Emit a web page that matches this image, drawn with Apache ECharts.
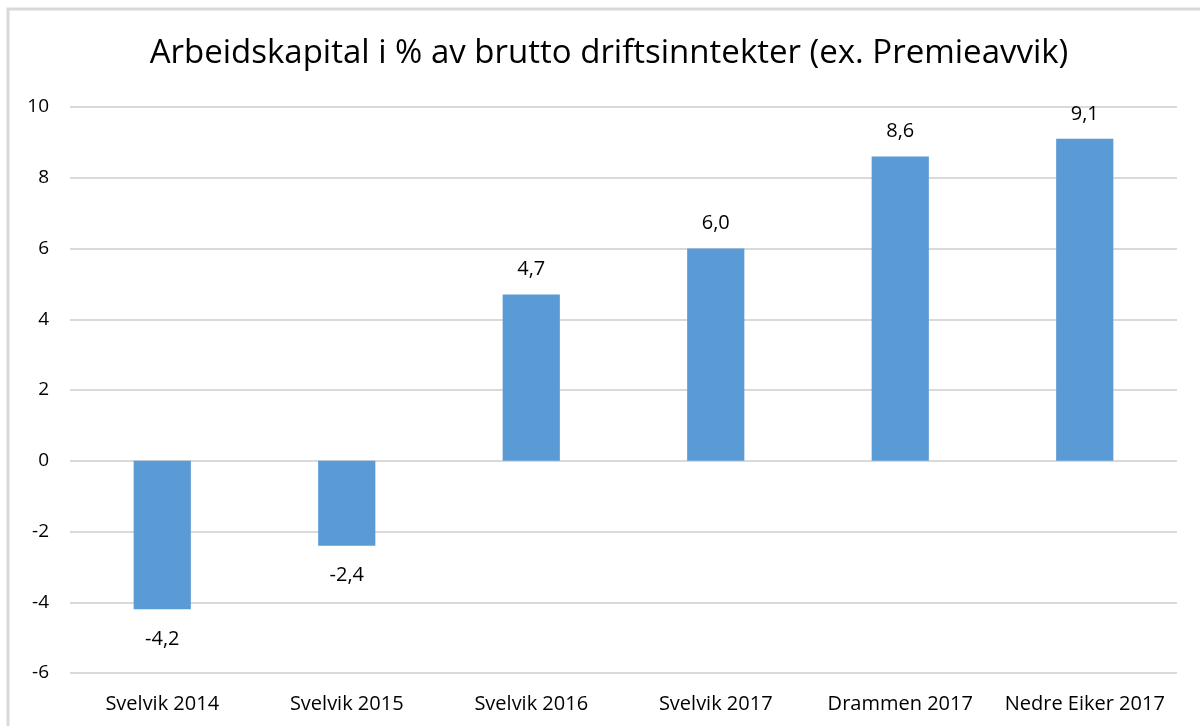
<!DOCTYPE html>
<html>
<head>
<meta charset="utf-8">
<script src="https://cdn.jsdelivr.net/npm/echarts@6/dist/echarts.min.js"></script>
<style>
html,body{margin:0;padding:0;background:#fff;}
#chart{width:1200px;height:726px;}
</style>
</head>
<body>
<div id="chart"></div>
<script>
var categories = ["Svelvik 2014","Svelvik 2015","Svelvik 2016","Svelvik 2017","Drammen 2017","Nedre Eiker 2017"];
var values = [-4.2, -2.4, 4.7, 6.0, 8.6, 9.1];
var yTicks = {min: -6, max: 10, interval: 2};

var myChart = echarts.init(document.getElementById("chart"));
var font = "'Open Sans', 'DejaVu Sans', sans-serif";
var option = {
    backgroundColor: "#fff",
    animation: false,
    title: {
        text: "Arbeidskapital i % av brutto driftsinntekter (ex. Premieavvik)",
        left: 604,
        textAlign: "center",
        top: 32,
        textStyle: {fontFamily: font, fontSize: 33, fontWeight: "normal", color: "#000"}
    },
    graphic: [{
        type: "rect",
        shape: {x: 8, y: 9, width: 1200, height: 730},
        style: {fill: null, stroke: "#d9d9d9", lineWidth: 3},
        silent: true
    }],
    grid: {left: 70, right: 23, top: 107, bottom: 53},
    xAxis: {
        type: "category",
        data: categories,
        axisLine: {show: false, onZero: false},
        axisTick: {show: false},
        axisLabel: {interval: 0, margin: 21, fontFamily: font, fontSize: 20, color: "#000"}
    },
    yAxis: {
        type: "value",
        min: yTicks.min,
        max: yTicks.max,
        interval: yTicks.interval,
        axisLine: {show: false},
        axisTick: {show: false},
        axisLabel: {margin: 21, fontFamily: font, fontSize: 19, color: "#000"},
        splitLine: {lineStyle: {color: "#d9d9d9", width: 2}}
    },
    series: [{
        type: "bar",
        barWidth: "31%",
        itemStyle: {color: "#5b9bd5"},
        label: {
            show: true,
            position: "top",
            distance: 15,
            fontFamily: font,
            fontSize: 20,
            color: "#000",
            formatter: function (p) { return p.value.toFixed(1).replace(".", ","); }
        },
        data: values.map(function (v) {
            return v < 0 ? {value: v, label: {position: "bottom", distance: 20}} : v;
        })
    }]
};
myChart.setOption(option);
</script>
</body>
</html>
